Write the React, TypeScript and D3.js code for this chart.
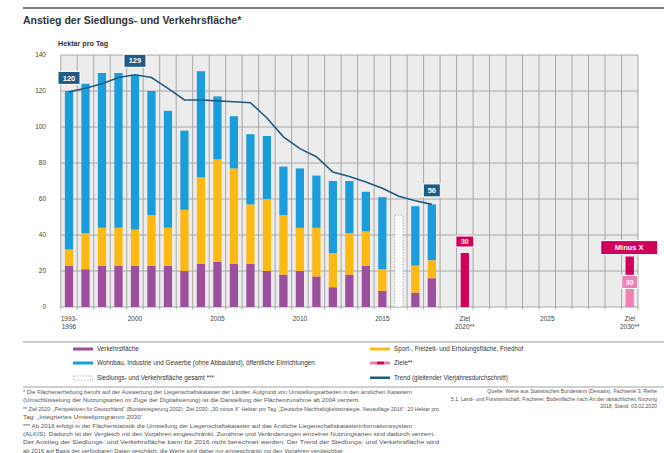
import React from 'react';
import * as d3 from 'd3';

// categories: one slot per year on the x axis
const slots = [
  '1993-1996', '1997', '1998', '1999', '2000', '2001', '2002', '2003', '2004', '2005',
  '2006', '2007', '2008', '2009', '2010', '2011', '2012', '2013', '2014', '2015',
  '2016', '2017', '2018', '2019', '2020', '2021', '2022', '2023', '2024', '2025',
  '2026', '2027', '2028', '2029', '2030',
];

// observed years (stacked bars)
const barYears = [
  '1993-1996', '1997', '1998', '1999', '2000', '2001', '2002', '2003', '2004', '2005',
  '2006', '2007', '2008', '2009', '2010', '2011', '2012', '2013', '2014', '2015',
  '2016', '2017', '2018',
];
const verkehr = [23, 21, 23, 23, 23, 23, 23, 20, 24, 25, 24, 24, 20, 18, 20, 17, 11, 18, 23, 9, 0, 8, 16];
const sport = [9, 20, 21, 21, 20, 28, 21, 34, 48, 57, 53, 33, 40, 33, 24, 27, 19, 23, 19, 12, 0, 15, 10];
const wohnen = [88, 83, 86, 86, 86, 69, 65, 44, 59, 35, 29, 39, 35, 27, 33, 29, 40, 29, 22, 40, 0, 33, 31];

// total only (dashed bar)
const gesamtYears = ['2016'];
const gesamtValues = [51];

// trend line (four-year moving average)
const trend = [119.5, 121.5, 124, 127.5, 129, 127.5, 121.5, 115, 115, 114.5, 114, 113.5, 105, 94.5, 88, 83.5, 75, 72.5, 69.5, 66, 61.5, 59, 57];

// targets
const zielYears = ['2020', '2030'];
const zielValues = [30, 28];

// value callouts on the trend line
const calloutYears = ['1993-1996', '2000', '2018'];
const calloutTexts = ['120', '129', '56'];

const yTicks = [0, 20, 40, 60, 80, 100, 120, 140];
const xTickSlots = ['1993-1996', '2000', '2005', '2010', '2015', '2020', '2025', '2030'];
const xTickTexts = [['1993-', '1996'], ['2000'], ['2005'], ['2010'], ['2015'], ['Ziel', '2020**'], ['2025'], ['Ziel', '2030**']];

const footnotes = [
  '* Die Flächenerhebung beruht auf der Auswertung der Liegenschaftskataster der Länder. Aufgrund von Umstellungsarbeiten in den amtlichen Katastern',
  '(Umschlüsselung der Nutzungsarten im Zuge der Digitalisierung) ist die Darstellung der Flächenzunahme ab 2004 verzerrt.',
  '** Ziel 2020: „Perspektiven für Deutschland“ (Bundesregierung 2002); Ziel 2030: „30 minus X“ Hektar pro Tag, „Deutsche Nachhaltigkeitsstrategie, Neuauflage 2016“; 20 Hektar pro',
  'Tag: „Integriertes Umweltprogramm 2030“',
  '*** Ab 2016 erfolgt in der Flächenstatistik die Umstellung der Liegenschaftskataster auf das Amtliche Liegenschaftskatasterinformationssystem',
  '(ALKIS). Dadurch ist der Vergleich mit den Vorjahren eingeschränkt. Zunahme und Veränderungen einzelner Nutzungsarten sind dadurch verzerrt.',
  'Der Anstieg der Siedlungs- und Verkehrsfläche kann für 2016 nicht berechnet werden. Der Trend der Siedlungs- und Verkehrsfläche wird',
  'ab 2016 auf Basis der verfügbaren Daten geschätzt; die Werte sind daher nur eingeschränkt mit den Vorjahren vergleichbar.',
];
const footnoteEnds = [412, 360, 439, 143, 412, 435, 439, 344];
const sourceLines = [
  'Quelle: Werte aus Statistisches Bundesamt (Destatis), Fachserie 3, Reihe',
  '5.1, Land- und Forstwirtschaft, Fischerei, Bodenfläche nach Art der tatsächlichen Nutzung',
  '2018, Stand: 03.02.2020',
];

const C = {
  purple: '#9c4f9c',
  yellow: '#fcb913',
  blue: '#1b9ddb',
  trend: '#1f5b82',
  ziel: '#d1005a',
  zielLight: '#f27fb5',
  grid: '#a8a8a8',
  bg: '#ececec',
  text: '#444',
};

const FONT = '"Liberation Sans", Arial, sans-serif';

export default function App() {
  const width = 664;
  const height = 453;
  const x = d3.scaleBand<string>().domain(slots).range([60.75, 638]).paddingInner(0.5).paddingOuter(0.25);
  const y = d3.scaleLinear().domain([0, 140]).range([307, 55]);
  const step = x.step();
  const bw = x.bandwidth();
  const cx = (s: string) => (x(s) ?? 0) + bw / 2;

  const stacked = barYears.map((yr, i) => ({ yr, v: verkehr[i], s: sport[i], w: wohnen[i] }));
  const line = d3.line<number>()
    .x((_, i) => cx(barYears[i]))
    .y(d => y(d));

  const gridXs = slots.map(s => (x(s) ?? 0) - (step * 0.5) / 2).concat([638]);

  return (
    <div>
      <style>{'body{margin:0}'}</style>
      <svg width={width} height={height} style={{ display: 'block', fontFamily: FONT }}>
        <rect width={width} height={height} fill="#fff" />
        {/* header */}
        <line x1={23} x2={664} y1={8} y2={8} stroke="#555" strokeWidth={1.5} />
        <text x={23} y={24} fontSize={10.5} fill="#333" fontWeight={600}>Anstieg der Siedlungs- und Verkehrsfläche*</text>
        <text x={58} y={45.5} fontSize={7.2} fill="#333" fontWeight={700}>Hektar pro Tag</text>

        {/* plot background and grid */}
        <rect x={60.75} y={y(140)} width={638 - 60.75} height={y(0) - y(140)} fill={C.bg} />
        {yTicks.map(t => (
          <line key={'gy' + t} x1={60.75} x2={638} y1={y(t)} y2={y(t)} stroke={C.grid} strokeWidth={1} />
        ))}
        {gridXs.map((gx, i) => (
          <line key={'gx' + i} x1={gx} x2={gx} y1={y(140)} y2={y(0) + 2.5} stroke={C.grid} strokeWidth={1} />
        ))}
        {yTicks.map(t => (
          <text key={'yt' + t} x={46} y={y(t) + 2.2} fontSize={6.5} fill={C.text} textAnchor="end">{t}</text>
        ))}

        {/* stacked bars */}
        {stacked.map(d => (
          <g key={d.yr}>
            {d.v > 0 && <rect x={x(d.yr)} y={y(d.v)} width={bw} height={y(0) - y(d.v)} fill={C.purple} />}
            {d.s > 0 && <rect x={x(d.yr)} y={y(d.v + d.s)} width={bw} height={y(d.v) - y(d.v + d.s)} fill={C.yellow} />}
            {d.w > 0 && <rect x={x(d.yr)} y={y(d.v + d.s + d.w)} width={bw} height={y(d.v + d.s) - y(d.v + d.s + d.w)} fill={C.blue} />}
          </g>
        ))}
        {gesamtYears.map((yr, i) => (
          <rect key={'g' + yr} x={x(yr)} y={y(gesamtValues[i])} width={bw} height={y(0) - y(gesamtValues[i])}
            fill="#fff" stroke="#999" strokeWidth={0.8} strokeDasharray="1.5,1.5" />
        ))}

        {/* targets */}
        <rect x={x(zielYears[0])} y={y(zielValues[0])} width={bw} height={y(0) - y(zielValues[0])} fill={C.ziel} />
        <rect x={x(zielYears[1])} y={y(zielValues[1])} width={bw} height={y(0) - y(zielValues[1])} fill={C.zielLight} />
        <rect x={x(zielYears[1])} y={y(zielValues[1])} width={bw} height={y(zielValues[1] - 10) - y(zielValues[1])} fill={C.ziel} />

        {/* trend line */}
        <path d={line(trend) ?? ''} fill="none" stroke={C.trend} strokeWidth={1.6} />

        {/* callouts */}
        {calloutYears.map((yr, i) => {
          const idx = barYears.indexOf(yr);
          const w = calloutTexts[i].length > 2 ? 22 : 17;
          const yc = y(trend[idx]) - 14;
          return (
            <g key={'c' + yr}>
              <rect x={cx(yr) - w / 2} y={yc - 6.5} width={w} height={13} fill={C.trend} stroke="#fff" strokeWidth={1} />
              <text x={cx(yr)} y={yc + 2.6} fontSize={7.5} fontWeight={700} fill="#fff" textAnchor="middle">{calloutTexts[i]}</text>
            </g>
          );
        })}
        <g>
          <rect x={cx(zielYears[0]) - 9} y={y(zielValues[0]) - 17} width={18} height={11} fill={C.ziel} stroke="#fff" strokeWidth={1} />
          <text x={cx(zielYears[0])} y={y(zielValues[0]) - 9} fontSize={7} fontWeight={700} fill="#fff" textAnchor="middle">30</text>
          <rect x={cx(zielYears[1]) - 29} y={y(zielValues[1]) - 16} width={57} height={14} fill={C.ziel} stroke="#fff" strokeWidth={1} />
          <text x={cx(zielYears[1]) - 0.5} y={y(zielValues[1]) - 6.3} fontSize={7.5} fontWeight={700} fill="#fff" textAnchor="middle">Minus X</text>
          <rect x={cx(zielYears[1]) - 8} y={y(zielValues[1] - 10.5)} width={16} height={13} fill={C.zielLight} stroke="#fff" strokeWidth={1} />
          <text x={cx(zielYears[1])} y={y(zielValues[1] - 10.5) + 9.2} fontSize={7} fontWeight={700} fill="#fff" textAnchor="middle">30</text>
        </g>

        {/* x labels */}
        {xTickSlots.map((s, i) => (
          <text key={'xt' + s} x={cx(s)} y={320.5} fontSize={6.5} fill={C.text} textAnchor="middle">
            {xTickTexts[i].map((t, j) => (
              <tspan key={j} x={cx(s)} dy={j === 0 ? 0 : 8.5}>{t}</tspan>
            ))}
          </text>
        ))}

        {/* legend */}
        <line x1={23} x2={664} y1={342} y2={342} stroke="#999" strokeWidth={1} />
        <g fontSize={6.3} fill="#333">
          <rect x={73} y={347.5} width={20} height={3} fill={C.purple} />
          <text x={97} y={351.2}>Verkehrsfläche</text>
          <rect x={73} y={361.5} width={20} height={3} fill={C.blue} />
          <text x={97} y={365.2}>Wohnbau, Industrie und Gewerbe (ohne Abbauland), öffentliche Einrichtungen</text>
          <rect x={73.5} y={376} width={19} height={4} fill="#fff" stroke="#999" strokeWidth={0.7} strokeDasharray="1.5,1.5" />
          <text x={97} y={380}>Siedlungs- und Verkehrsfläche gesamt ***</text>

          <rect x={370} y={347.5} width={20} height={3} fill={C.yellow} />
          <text x={394} y={351.2}>Sport-, Freizeit- und Erholungsfläche, Friedhof</text>
          <rect x={370} y={361.5} width={7} height={3} fill={C.zielLight} />
          <rect x={377} y={361.5} width={7} height={3} fill={C.ziel} />
          <rect x={384} y={361.5} width={6} height={3} fill={C.zielLight} />
          <text x={394} y={365.2}>Ziele**</text>
          <rect x={370} y={376.5} width={20} height={2.5} fill={C.trend} />
          <text x={394} y={380}>Trend (gleitender Vierjahresdurchschnitt)</text>
        </g>

        {/* footnotes */}
        <line x1={23} x2={664} y1={387} y2={387} stroke="#d0d0d0" strokeWidth={2} />
        <g fontSize={5.2} fill="#555">
          {footnotes.map((t, i) => (
            <text key={'f' + i} x={23} y={394 + i * 8.4} textLength={footnoteEnds[i] - 23} lengthAdjust="spacingAndGlyphs">{t}</text>
          ))}
          {sourceLines.map((t, i) => (
            <text key={'s' + i} x={657} y={393 + i * 7.5} textAnchor="end">{t}</text>
          ))}
        </g>
      </svg>
    </div>
  );
}
